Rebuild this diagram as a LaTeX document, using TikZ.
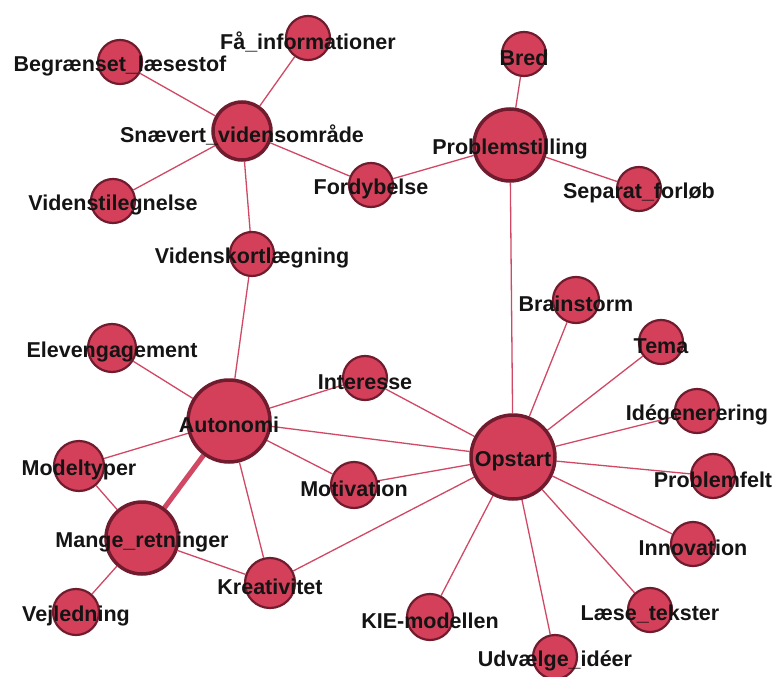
\documentclass[tikz,border=0pt]{standalone}
\usepackage{fontspec}
\setmainfont{Liberation Sans}
\usetikzlibrary{backgrounds}

\definecolor{nodefill}{RGB}{212,64,90}
\definecolor{nodeedge}{RGB}{112,28,46}
\definecolor{linkcol}{RGB}{208,72,100}

\tikzset{
  vert/.style={circle, fill=nodefill, draw=nodeedge, line width=2.2pt, inner sep=0pt, minimum size=44pt},
  hub/.style={vert, line width=3.5pt},
  lbl/.style={font=\bfseries\fontsize{21.5}{25}\selectfont, text=black!92, inner sep=0pt, yshift=-4pt},
  link/.style={draw=linkcol, line width=1.3pt},
  heavy/.style={draw=linkcol, line width=5pt}
}

\begin{document}
\begin{tikzpicture}[x=1pt, y=-1pt]
        \useasboundingbox (0,0) rectangle (777,677);
        % upper left group
        \node[vert, label={[lbl]center:Få\_informationer}] (fainf) at (308,38) {};
        \node[vert, label={[lbl]center:Begrænset\_læsestof}] (begr) at (120,62) {};
        \node[hub, minimum size=58pt, label={[lbl]center:Snævert\_vidensområde}] (snaev) at (242,131) {};
        \node[vert, label={[lbl]center:Fordybelse}] (ford) at (371,185) {};
        \node[vert, label={[lbl]center:Videnstilegnelse}] (vtil) at (113,201) {};
        \node[vert, label={[lbl]center:Videnskortlægning}] (vkort) at (252,254) {};
        % upper right group
        \node[vert, label={[lbl]center:Bred}] (bred) at (524,54) {};
        \node[hub, minimum size=72pt, label={[lbl]center:Problemstilling}] (probst) at (510,145) {};
        \node[vert, label={[lbl]center:Separat\_forløb}] (separ) at (639,189) {};
        % lower left group
        \node[vert, minimum size=48pt, label={[lbl]center:Elevengagement}] (eleng) at (112,348) {};
        \node[hub, minimum size=82pt, label={[lbl]center:Autonomi}] (auto) at (229,421) {};
        \node[vert, minimum size=50pt, label={[lbl]center:Modeltyper}] (model) at (79,466) {};
        \node[hub, minimum size=72pt, label={[lbl]center:Mange\_retninger}] (mange) at (142,538) {};
        \node[vert, minimum size=50pt, label={[lbl]center:Kreativitet}] (kreat) at (270,583) {};
        \node[vert, minimum size=46pt, label={[lbl]center:Vejledning}] (vejl) at (76,612) {};
        \node[vert, label={[lbl]center:Interesse}] (inter) at (365,378) {};
        \node[vert, minimum size=46pt, label={[lbl]center:Motivation}] (motiv) at (354,485) {};
        % Opstart and its leaves
        \node[hub, minimum size=84pt, label={[lbl]center:Opstart}] (opst) at (513,457) {};
        \node[vert, minimum size=46pt, label={[lbl]center:Brainstorm}] (brain) at (576,300) {};
        \node[vert, label={[lbl]center:Tema}] (tema) at (661,342) {};
        \node[vert, label={[lbl]center:Idégenerering}] (ideg) at (697,411) {};
        \node[vert, label={[lbl]center:Problemfelt}] (pfelt) at (713,476) {};
        \node[vert, label={[lbl]center:Innovation}] (innov) at (693,544) {};
        \node[vert, label={[lbl]center:Læse\_tekster}] (laese) at (650,610) {};
        \node[vert, label={[lbl]center:Udvælge\_idéer}] (udv) at (555,657) {};
        \node[vert, minimum size=46pt, label={[lbl]center:KIE-modellen}] (kie) at (430,617) {};

        \begin{scope}[on background layer]
          \fill[white] (0,0) rectangle (777,677);
          \draw[link] (snaev) -- (begr);
          \draw[link] (snaev) -- (fainf);
          \draw[link] (snaev) -- (vtil);
          \draw[link] (snaev) -- (ford);
          \draw[link] (snaev) -- (vkort);
          \draw[link] (ford) -- (probst);
          \draw[link] (bred) -- (probst);
          \draw[link] (probst) -- (separ);
          \draw[link] (probst) -- (opst);
          \draw[link] (vkort) -- (auto);
          \draw[link] (eleng) -- (auto);
          \draw[link] (auto) -- (inter);
          \draw[link] (auto) -- (opst);
          \draw[link] (auto) -- (motiv);
          \draw[link] (auto) -- (model);
          \draw[heavy] (auto) -- (mange);
          \draw[link] (auto) -- (kreat);
          \draw[link] (model) -- (mange);
          \draw[link] (mange) -- (kreat);
          \draw[link] (mange) -- (vejl);
          \draw[link] (kreat) -- (opst);
          \draw[link] (inter) -- (opst);
          \draw[link] (motiv) -- (opst);
          \foreach \leaf in {brain, tema, ideg, pfelt, innov, laese, udv, kie}
            \draw[link] (opst) -- (\leaf);
        \end{scope}
      \end{tikzpicture}
\end{document}
